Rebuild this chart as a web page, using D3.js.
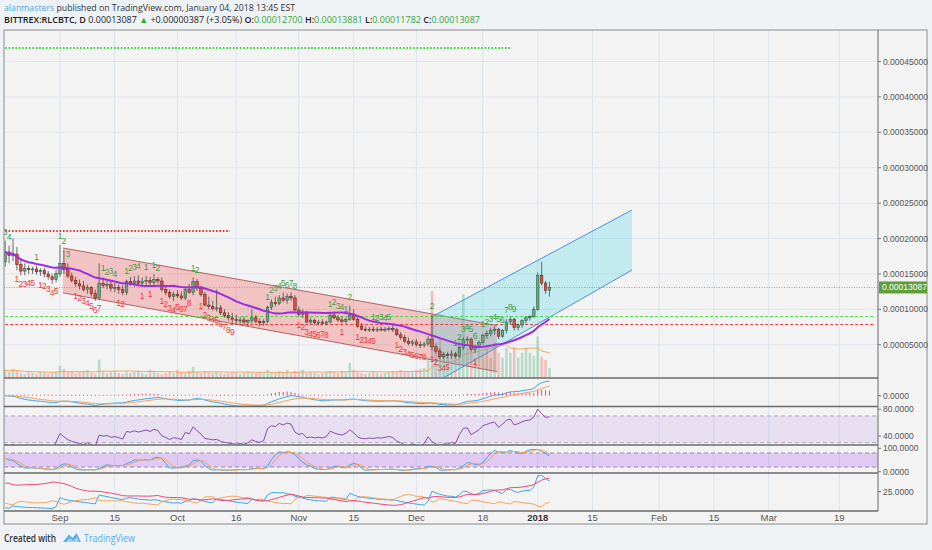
<!DOCTYPE html>
<html>
<head>
<meta charset="utf-8">
<script src="https://cdn.jsdelivr.net/npm/d3@7"></script>
<style>
  body { margin: 0; background: #eff2f5; }
  svg { display: block; font-family: "Liberation Sans", Arial, sans-serif; }
</style>
</head>
<body>
<svg id="chart" width="932" height="550"></svg>
<script>
// ---- data (prices in µBTC, 1e-6 BTC), daily candles from Aug 18, 2017 ----
const firstDay = "2017-08-18";
const ohlc = [
  [167,197,160,181],[181,190,165,176],[176,200,168,178],[178,188,155,163],[163,172,148,154],
  [154,165,148,158],[158,162,150,156],[156,160,150,157],[157,161,149,153],[153,158,147,155],
  [155,158,145,150],[150,154,142,146],[146,150,136,142],[142,156,138,151],[150,191,146,165],
  [165,184,150,156],[156,165,144,147],[147,152,138,141],[141,146,132,136],[136,142,128,133],
  [133,140,125,128],[128,135,122,131],[131,133,118,122],[122,128,112,116],[116,165,114,137],
  [137,145,130,134],[134,140,128,135],[135,142,125,130],[130,137,124,131],[131,135,122,128],
  [128,134,120,124],[124,142,120,139],[139,146,133,137],[137,147,132,140],[140,148,134,137],
  [137,145,132,139],[139,147,133,141],[141,146,134,138],[138,150,134,142],[142,146,136,140],
  [140,145,125,128],[128,133,120,124],[124,128,115,118],[118,125,112,121],[121,127,116,119],
  [119,125,113,116],[116,132,113,128],[128,136,122,124],[124,145,120,139],[139,143,126,130],
  [130,133,118,121],[121,125,104,106],[106,118,100,104],[104,112,98,101],[101,128,97,102],
  [102,106,92,95],[95,100,88,91],[91,96,84,88],[88,95,80,86],[86,92,78,84],
  [84,89,79,85],[85,90,78,82],[82,86,76,84],[84,100,80,88],[88,92,80,83],
  [83,87,76,81],[81,86,77,83],[83,105,81,103],[103,114,99,110],[110,118,104,108],
  [108,120,106,116],[116,124,110,113],[113,122,108,118],[118,124,112,116],[116,120,97,99],
  [99,104,90,93],[93,100,88,95],[95,98,80,82],[82,88,78,84],[84,87,78,81],
  [81,85,77,82],[82,86,78,80],[80,84,77,82],[82,95,80,92],[92,97,86,88],
  [88,92,82,85],[85,90,80,83],[83,88,80,86],[86,105,84,92],[92,100,84,86],
  [86,89,74,76],[76,80,70,72],[72,76,69,71],[71,75,68,72],[72,76,68,71],
  [71,75,68,72],[72,76,69,71],[71,75,68,72],[72,76,69,73],[73,78,68,71],
  [71,74,62,64],[64,68,57,60],[60,64,52,55],[55,60,49,52],[52,57,48,54],
  [54,58,47,50],[50,55,45,49],[49,54,46,51],[51,62,48,58],[58,92,42,47],
  [47,52,38,41],[41,45,30,33],[33,40,30,36],[36,40,31,35],[35,42,30,37],
  [37,40,31,34],[34,48,32,46],[46,60,43,57],[57,62,50,58],[58,60,40,43],
  [43,50,38,48],[48,56,45,53],[53,66,50,63],[63,70,58,66],[66,74,62,70],
  [70,76,64,72],[72,74,58,62],[62,72,60,70],[70,86,66,82],[82,90,78,86],
  [86,88,70,74],[74,80,70,78],[78,86,74,84],[84,90,80,88],[88,92,84,90],
  [90,104,88,100],[100,152,98,148],[148,167,134,137],[137,140,122,127],[127,138.81,117.82,130.87]
];
const volume = [
  8,6,9,7,5,4,6,5,4,6,5,4,5,6,
  12,9,6,7,5,6,7,8,5,4,
  18,7,5,6,7,5,4,6,5,6,
  7,5,4,8,6,5,4,5,6,5,
  8,6,5,7,11,6,5,7,6,5,
  6,5,4,5,6,5,4,5,6,5,
  5,6,5,8,6,5,7,6,8,5,
  7,6,8,5,6,5,4,5,6,7,
  6,5,7,6,15,8,6,5,4,5,
  6,5,4,5,6,7,6,8,7,6,
  7,8,9,10,20,86,30,40,25,20,
  15,25,40,83,30,25,20,30,25,30,
  20,35,25,20,30,25,30,20,25,30,
  25,22,41,21,18,10
];
// TD sequential counts: [candle index, label]
const tdSell = [
  [0,"3"],[1,"4"],[8,"1"],[14,"1"],[15,"2"],[16,"3"],[25,"1"],[26,"2"],[27,"3"],[28,"4"],
  [31,"1"],[32,"2"],[33,"3"],[34,"4"],[36,"1"],[38,"1"],[39,"2"],[48,"1"],[49,"2"],
  [67,"1"],[68,"2"],[69,"3"],[70,"4"],[71,"5"],[72,"6"],[73,"7"],[74,"8"],
  [83,"1"],[84,"2"],[85,"3"],[86,"4"],[87,"1"],[88,"2"],
  [94,"1"],[95,"2"],[96,"3"],[97,"4"],[98,"5"],[109,"2"],
  [115,"1"],[116,"2"],[117,"3"],[118,"4"],[119,"5"],[120,"6"],
  [122,"1"],[123,"2"],[124,"3"],[125,"4"],[126,"5"],[127,"6"],[128,"7"],[129,"8"],[130,"9"]
];
const tdBuy = [
  [3,"1"],[4,"2"],[5,"3"],[6,"4"],[7,"5"],[9,"1"],[10,"2"],[11,"3"],[12,"4"],[13,"5"],
  [18,"1"],[19,"2"],[20,"3"],[21,"4"],[22,"5"],[23,"6"],[24,"7"],[29,"1"],[30,"2"],
  [35,"1"],[37,"1"],[40,"1"],[41,"2"],[42,"3"],[43,"4"],[44,"5"],[45,"6"],[46,"7"],[47,"8"],
  [50,"1"],[51,"2"],[52,"3"],[53,"4"],[54,"5"],[55,"6"],[56,"7"],[57,"8"],[58,"9"],
  [75,"1"],[76,"2"],[77,"3"],[78,"4"],[79,"5"],[80,"6"],[81,"7"],[82,"8"],[86,"1"],
  [90,"1"],[91,"2"],[92,"3"],[93,"4"],[94,"5"],
  [100,"1"],[101,"2"],[102,"3"],[103,"4"],[104,"5"],[105,"6"],[106,"7"],[107,"8"],
  [109,"1"],[110,"2"],[111,"3"],[112,"4"],[113,"5"],[120,"1"]
];
// horizontal levels: [price µBTC, from, to, kind]
const levels = [
  [469, "2017-08-18", "2017-12-25T10:00", "resistDot"],
  [210.6, "2017-08-18", "2017-10-14T10:00", "supportDot"],
  [89.8, "2017-08-18", "2018-03-28T00:00", "resistDash"],
  [78.5, "2017-08-18", "2018-03-28T00:00", "supportDash"]
];
// channels: [date, upper µBTC, lower µBTC]
const downChannel = [["2017-09-01T18:00", 186.6, 123.3], ["2017-12-21T14:00", 77.1, 12.1]];
const upChannel = [["2017-12-05T00:00", 89.5, -6.1], ["2018-01-25T02:00", 240.3, 155.5]];
const timeTicks = [
  ["2017-09-01","Sep"],["2017-09-15","15"],["2017-10-01","Oct"],["2017-10-16","16"],
  ["2017-11-01","Nov"],["2017-11-15","15"],["2017-12-01","Dec"],["2017-12-18","18"],
  ["2018-01-01","2018"],["2018-01-15","15"],["2018-02-01","Feb"],["2018-02-15","15"],
  ["2018-03-01","Mar"],["2018-03-19","19"]
];
const priceTicks = [0.00005,0.0001,0.00015,0.0002,0.00025,0.0003,0.00035,0.0004,0.00045];
const lastPrice = 0.00013087;
const headerLine1 = [["alanmasters", "#4fa8de", 400], [" published on TradingView.com, January 04, 2018 13:45 EST", "#333", 400]];
const headerLine2 = [
  ["BITTREX:RLCBTC, D ", "#222", 600], ["0.00013087 ", "#222", 400], ["▲", "#35a835", 400],
  [" +0.00000387 (+3.05%) ", "#222", 400], ["O:", "#222", 600], ["0.00012700", "#35a835", 400],
  [" H:", "#222", 600], ["0.00013881", "#35a835", 400], [" L:", "#222", 600], ["0.00011782", "#35a835", 400],
  [" C:", "#222", 600], ["0.00013087", "#35a835", 400]
];

// ---- layout ----
const W = 932, H = 550;
const plotL = 4, plotR = 878, axisR = 927;
const panes = {
  main: [30, 378], macd: [378, 406.5], rsi: [406.5, 445], stoch: [445, 473], dmi: [473, 511]
};
const DAY = 864e5;
const sep1 = Date.UTC(2017, 8, 1);
const t0 = Date.parse(firstDay + "T00:00:00Z");
const parse = s => new Date(Date.parse(s.length > 10 ? s + ":00Z" : s + "T00:00:00Z"));

const bars = ohlc.map((r, i) => ({
  date: new Date(t0 + i * DAY), o: r[0], h: r[1], l: r[2], c: r[3], v: volume[i]
}));

const x = d3.scaleUtc()
  .domain([new Date(sep1 - 14.3 * DAY), new Date(sep1 + 208.9 * DAY)])
  .range([plotL, plotR]);
const yPrice = d3.scaleLinear().domain([0.000003, 0.0004945]).range([378, 30]);
const yP = u => yPrice(u * 1e-6);
const yVol = d3.scaleLinear().domain([0, d3.max(volume)]).range([378, 291]);

// ---- indicators ----
function sma(a, n) { return a.map((_, i) => d3.mean(a.slice(Math.max(0, i - n + 1), i + 1))); }
function ema(a, n) { const k = 2 / (n + 1); let e = a[0]; return a.map(v => (e = v * k + e * (1 - k))); }
function wilder(a, n) { let s = d3.mean(a.slice(0, n)); return a.map(v => (s = (s * (n - 1) + v) / n)); }

const closes = bars.map(b => b.c);
const ma20 = sma(closes, 20);
const volMa = sma(volume, 20);

const ema12 = ema(closes, 12), ema26 = ema(closes, 26);
const macd = closes.map((_, i) => ema12[i] - ema26[i]);
const signal = ema(macd, 9);
const hist = macd.map((m, i) => m - signal[i]);

const gains = closes.map((c, i) => i ? Math.max(c - closes[i - 1], 0) : 0);
const losses = closes.map((c, i) => i ? Math.max(closes[i - 1] - c, 0) : 0);
const ag = wilder(gains, 14), al = wilder(losses, 14);
const rsi = ag.map((g, i) => 100 - 100 / (1 + g / al[i]));

const rawK = bars.map((b, i) => {
  const w = bars.slice(Math.max(0, i - 13), i + 1);
  const lo = d3.min(w, d => d.l), hi = d3.max(w, d => d.h);
  return 100 * (b.c - lo) / (hi - lo);
});
const stK = sma(rawK, 3), stD = sma(stK, 3);

const tr = bars.map((b, i) => i ? Math.max(b.h - b.l, Math.abs(b.h - bars[i - 1].c), Math.abs(b.l - bars[i - 1].c)) : b.h - b.l);
const pdm = bars.map((b, i) => {
  if (!i) return 0;
  const up = b.h - bars[i - 1].h, dn = bars[i - 1].l - b.l;
  return up > dn && up > 0 ? up : 0;
});
const ndm = bars.map((b, i) => {
  if (!i) return 0;
  const up = b.h - bars[i - 1].h, dn = bars[i - 1].l - b.l;
  return dn > up && dn > 0 ? dn : 0;
});
const sTR = wilder(tr, 14), sP = wilder(pdm, 14), sN = wilder(ndm, 14);
const pdi = sP.map((v, i) => 100 * v / sTR[i]);
const ndi = sN.map((v, i) => 100 * v / sTR[i]);
const dx = pdi.map((p, i) => 100 * Math.abs(p - ndi[i]) / ((p + ndi[i]) || 1));
const adx = wilder(dx, 14);

// sub-pane scales
const yMacd = d3.scaleLinear().domain([0, d3.max(macd.concat(signal))]).range([395.7, 381]);
const yRsi = d3.scaleLinear().domain([40, 80]).range([436, 409.3]);
const yStoch = d3.scaleLinear().domain([0, 100]).range([471.7, 448.3]);
const yDmi = d3.scaleLinear().domain([0, 25]).range([512, 491.7]);

// ---- drawing ----
const svg = d3.select("#chart");
svg.append("rect").attr("width", W).attr("height", H).attr("fill", "#eff2f5");
svg.append("rect").attr("x", plotL).attr("y", 30).attr("width", axisR - plotL).attr("height", 494)
  .attr("fill", "#f3f3f3");

const defs = svg.append("defs");
Object.entries(panes).forEach(([k, [t, b]]) => {
  defs.append("clipPath").attr("id", "clip-" + k).append("rect")
    .attr("x", plotL).attr("y", t).attr("width", plotR - plotL).attr("height", b - t);
});
const layer = k => svg.append("g").attr("clip-path", "url(#clip-" + k + ")");

// grid
const grid = svg.append("g").attr("stroke", "#dae4f0").attr("stroke-width", 1);
grid.selectAll("line.v").data(timeTicks).join("line")
  .attr("x1", d => x(parse(d[0]))).attr("x2", d => x(parse(d[0])))
  .attr("y1", 30).attr("y2", 511);
grid.selectAll("line.h").data(priceTicks).join("line")
  .attr("x1", plotL).attr("x2", plotR).attr("y1", d => yPrice(d)).attr("y2", d => yPrice(d))
  .attr("stroke", "#dfe5ec");

// main pane
const main = layer("main");
const bw = (x(new Date(sep1 + DAY)) - x(new Date(sep1))) * 0.66;

main.selectAll("rect.vol").data(bars).join("rect")
  .attr("x", d => x(d.date) - bw / 2).attr("width", bw)
  .attr("y", d => yVol(d.v)).attr("height", d => 378 - yVol(d.v))
  .attr("fill", d => d.c >= d.o ? "#7cc49a" : "#ee8a8a").attr("opacity", 0.5);
main.append("path").datum(volMa)
  .attr("d", d3.line().x((_, i) => x(bars[i].date)).y(v => yVol(v)))
  .attr("fill", "none").attr("stroke", "#f5a65b").attr("stroke-width", 1);

function channel(ch, fill, stroke) {
  const pts = ch.map(d => ({ x: x(parse(d[0])), up: yP(d[1]), lo: yP(d[2]) }));
  main.append("path")
    .attr("d", `M${pts[0].x},${pts[0].up}L${pts[1].x},${pts[1].up}L${pts[1].x},${pts[1].lo}L${pts[0].x},${pts[0].lo}Z`)
    .attr("fill", fill);
  ["up", "lo"].forEach(k => main.append("line")
    .attr("x1", pts[0].x).attr("y1", pts[0][k]).attr("x2", pts[1].x).attr("y2", pts[1][k])
    .attr("stroke", stroke).attr("stroke-width", 1));
}
channel(downChannel, "rgba(238,85,85,0.3)", "#b86060");
channel(upChannel, "rgba(40,210,225,0.24)", "#4d8fd6");

const levelStyle = {
  resistDot: { stroke: "#33dd33", dash: "1.6,1.8", w: 2 },
  supportDot: { stroke: "#ee3333", dash: "1.6,1.8", w: 2 },
  resistDash: { stroke: "#44dd44", dash: "3,2", w: 1 },
  supportDash: { stroke: "#ee3b3b", dash: "3,2", w: 1 }
};
main.selectAll("line.lvl").data(levels).join("line")
  .attr("x1", d => x(parse(d[1]))).attr("x2", d => x(parse(d[2])))
  .attr("y1", d => yP(d[0])).attr("y2", d => yP(d[0]))
  .attr("stroke", d => levelStyle[d[3]].stroke)
  .attr("stroke-dasharray", d => levelStyle[d[3]].dash)
  .attr("stroke-width", d => levelStyle[d[3]].w);

main.append("line").attr("x1", plotL).attr("x2", plotR)
  .attr("y1", yPrice(lastPrice)).attr("y2", yPrice(lastPrice))
  .attr("stroke", "#aaa36a").attr("stroke-dasharray", "1,1.5");

// candles
const candle = main.selectAll("g.candle").data(bars).join("g");
candle.append("line")
  .attr("x1", d => x(d.date)).attr("x2", d => x(d.date))
  .attr("y1", d => yP(d.h)).attr("y2", d => yP(d.l))
  .attr("stroke", "#4a4a4a").attr("stroke-width", 0.8);
candle.append("rect")
  .attr("x", d => x(d.date) - bw / 2).attr("width", bw)
  .attr("y", d => yP(Math.max(d.o, d.c)))
  .attr("height", d => Math.max(1, Math.abs(yP(d.o) - yP(d.c))))
  .attr("fill", d => d.c >= d.o ? "#6ba583" : "#d75442")
  .attr("stroke", d => d.c >= d.o ? "#225437" : "#5b1a13").attr("stroke-width", 0.5);

main.append("path").datum(ma20)
  .attr("d", d3.line().x((_, i) => x(bars[i].date)).y(v => yP(v)))
  .attr("fill", "none").attr("stroke", "#9a2ee0").attr("stroke-width", 2);

// TD counts
main.selectAll("text.sell").data(tdSell).join("text")
  .attr("x", d => x(bars[d[0]].date)).attr("y", d => yP(bars[d[0]].h) - 6)
  .attr("text-anchor", "middle").attr("font-size", 8.5).attr("fill", "#3e9e3e").text(d => d[1]);
main.selectAll("text.buy").data(tdBuy).join("text")
  .attr("x", d => x(bars[d[0]].date)).attr("y", d => yP(bars[d[0]].l) + 12)
  .attr("text-anchor", "middle").attr("font-size", 8.5).attr("fill", "#f03a3a").text(d => d[1]);

// MACD pane
const mp = layer("macd");
mp.selectAll("line.h").data(hist).join("line")
  .attr("x1", (_, i) => x(bars[i].date)).attr("x2", (_, i) => x(bars[i].date))
  .attr("y1", yMacd(0)).attr("y2", v => Math.min(yMacd(v), yMacd(0) - 1))
  .attr("stroke", "#f0467a").attr("stroke-width", 1);
const lineOn = (g, arr, sc, color, w) => g.append("path").datum(arr)
  .attr("d", d3.line().x((_, i) => x(bars[i].date)).y(v => sc(v)))
  .attr("fill", "none").attr("stroke", color).attr("stroke-width", w || 1);
lineOn(mp, macd, yMacd, "#3ea6e8");
lineOn(mp, signal, yMacd, "#f5a35a");

// RSI pane
const rp = layer("rsi");
rp.append("rect").attr("x", plotL).attr("width", plotR - plotL)
  .attr("y", yRsi(70)).attr("height", yRsi(30) - yRsi(70)).attr("fill", "rgba(170,110,230,0.15)");
[70, 30].forEach(v => rp.append("line").attr("x1", plotL).attr("x2", plotR)
  .attr("y1", yRsi(v)).attr("y2", yRsi(v)).attr("stroke", "#b0a4bb").attr("stroke-dasharray", "4,3"));
lineOn(rp, rsi, yRsi, "#8a4aa8");

// Stoch pane
const sp = layer("stoch");
sp.append("rect").attr("x", plotL).attr("width", plotR - plotL)
  .attr("y", yStoch(80)).attr("height", yStoch(20) - yStoch(80)).attr("fill", "rgba(175,90,240,0.27)");
[80, 20].forEach(v => sp.append("line").attr("x1", plotL).attr("x2", plotR)
  .attr("y1", yStoch(v)).attr("y2", yStoch(v)).attr("stroke", "#9a8aa6").attr("stroke-dasharray", "4,3"));
lineOn(sp, stK, yStoch, "#3ea6e8");
lineOn(sp, stD, yStoch, "#f5a35a");

// DMI pane
const dp = layer("dmi");
lineOn(dp, pdi, yDmi, "#3ea6e8");
lineOn(dp, ndi, yDmi, "#f5a35a");
lineOn(dp, adx, yDmi, "#f0467a");

// frames and separators
const frame = svg.append("g").attr("stroke", "#6b6b6b").attr("fill", "none");
frame.append("rect").attr("x", plotL).attr("y", 30).attr("width", axisR - plotL).attr("height", 494).attr("stroke", "#8a8a8a");
frame.append("line").attr("x1", plotR).attr("x2", plotR).attr("y1", 30).attr("y2", 511);
[378, 406.5, 445, 473, 511].forEach(y => frame.append("line")
  .attr("x1", plotL).attr("x2", plotR).attr("y1", y).attr("y2", y).attr("stroke-width", 1.6));

// right axis labels
const axisLabels = priceTicks.map(v => [yPrice(v), d3.format(".8f")(v)])
  .concat([[yMacd(0), "0.0000"], [yRsi(80), "80.0000"], [yRsi(40), "40.0000"],
    [yStoch(100), "100.0000"], [yStoch(0), "0.0000"], [yDmi(25), "25.0000"]]);
const ax = svg.append("g");
ax.selectAll("line").data(axisLabels).join("line")
  .attr("x1", plotR).attr("x2", plotR + 3).attr("y1", d => d[0]).attr("y2", d => d[0]).attr("stroke", "#777");
ax.selectAll("text").data(axisLabels).join("text")
  .attr("x", plotR + 5).attr("y", d => d[0] + 3).attr("font-size", 8.5).attr("fill", "#555").text(d => d[1]);

const ly = yPrice(lastPrice);
svg.append("rect").attr("x", plotR + 1).attr("y", ly - 6).attr("width", axisR - plotR - 1).attr("height", 12).attr("fill", "#5e9e3b");
svg.append("text").attr("x", plotR + 4).attr("y", ly + 3).attr("font-size", 8.5).attr("fill", "#fff")
  .text(d3.format(".8f")(lastPrice));

// time axis labels
svg.append("g").selectAll("text").data(timeTicks).join("text")
  .attr("x", d => x(parse(d[0]))).attr("y", 521).attr("text-anchor", "middle")
  .attr("font-size", 9.5).attr("fill", d => d[1] === "2018" ? "#333" : "#555")
  .attr("font-weight", d => d[1] === "2018" ? "bold" : "normal").text(d => d[1]);

// header: each run measured, then squeezed to the target width
const hf = "'Open Sans', 'Liberation Sans', sans-serif";
function richLine(parts, x0, y, target, size) {
  const g = svg.append("g");
  const nodes = parts.map(([t, c, w]) => g.append("text")
    .attr("y", y).attr("font-size", size).attr("font-family", hf)
    .attr("font-weight", w).attr("fill", c).style("white-space", "pre").text(t));
  const widths = nodes.map(n => n.node().getComputedTextLength());
  const k = target / d3.sum(widths);
  let cx = x0;
  nodes.forEach((n, i) => {
    n.attr("x", cx).attr("textLength", widths[i] * k).attr("lengthAdjust", "spacingAndGlyphs");
    cx += widths[i] * k;
  });
}
richLine(headerLine1, 4, 10.6, 291, 9);
richLine(headerLine2, 4, 23, 476, 9);

// footer
svg.append("text").attr("x", 4).attr("y", 542).attr("font-size", 11).attr("font-family", hf)
  .attr("font-weight", 600).attr("fill", "#333")
  .attr("textLength", 52).attr("lengthAdjust", "spacingAndGlyphs").text("Created with");
svg.append("path").attr("d", "M63,542 L69,534.5 L72.5,538 L76.5,533 L81,542 Z").attr("fill", "#5cb0e4");
svg.append("path").attr("d", "M66,542 L69.5,538 L73,541 L77,537 L79,542 Z").attr("fill", "#9fd3f2");
svg.append("text").attr("x", 84).attr("y", 542).attr("font-size", 11).attr("font-family", hf)
  .attr("fill", "#5aade2").attr("textLength", 51).attr("lengthAdjust", "spacingAndGlyphs").text("TradingView");
</script>
</body>
</html>
